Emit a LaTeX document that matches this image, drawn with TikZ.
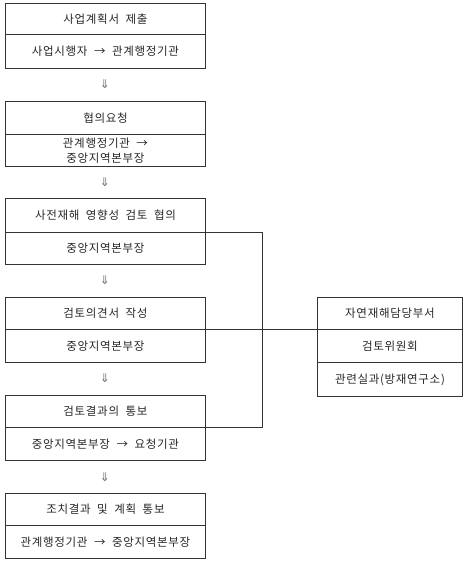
\documentclass[tikz,border=0pt]{standalone}
\usepackage{fontspec}
\setmainfont{Noto Sans CJK KR}[LetterSpace=6, WordSpace=2]
\newfontfamily\symfont{DejaVu Sans}
\begin{document}
\begin{tikzpicture}[x=1pt,y=-1pt,
  cell/.style={draw=black!80, line width=0.9pt, anchor=north west, inner sep=0pt,
    minimum width=200pt, font=\fontsize{11.5pt}{15pt}\selectfont, text=black!85, align=center},
  rcell/.style={cell, minimum width=145pt},
  dn/.style={font=\symfont\fontsize{12pt}{12pt}\selectfont, text=black!55, inner sep=0pt},
  link/.style={draw=black!80, line width=0.9pt}]
\useasboundingbox (0,0) rectangle (472,566);
% box 1
\node[cell, minimum height=31pt] (b1t) at (5,3) {사업계획서 제출};
\node[cell, minimum height=34pt] (b1b) at (5,34) {사업시행자 → 관계행정기관};
\node[dn] (a1) at (105,84) {⇓};
% box 2
\node[cell, minimum height=33pt] (b2t) at (5,101) {협의요청};
\node[cell, minimum height=32pt] (b2b) at (5,134) {관계행정기관 →\\중앙지역본부장};
\node[dn] (a2) at (105,182) {⇓};
% box 3
\node[cell, minimum height=34pt] (b3t) at (5,198) {사전재해 영향성 검토 협의};
\node[cell, minimum height=32pt] (b3b) at (5,232) {중앙지역본부장};
\node[dn] (a3) at (105,280) {⇓};
% box 4
\node[cell, minimum height=32pt] (b4t) at (5,297) {검토의견서 작성};
\node[cell, minimum height=33pt] (b4b) at (5,329) {중앙지역본부장};
\node[dn] (a4) at (105,378) {⇓};
% box 5
\node[cell, minimum height=32pt] (b5t) at (5,395) {검토결과의 통보};
\node[cell, minimum height=33pt] (b5b) at (5,427) {중앙지역본부장 → 요청기관};
\node[dn] (a5) at (105,477) {⇓};
% box 6
\node[cell, minimum height=32pt] (b6t) at (5,493) {조치결과 및 계획 통보};
\node[cell, minimum height=33pt] (b6b) at (5,525) {관계행정기관 → 중앙지역본부장};
% right box
\node[rcell, minimum height=32pt] (r1) at (317,297) {자연재해담당부서};
\node[rcell, minimum height=33pt] (r2) at (317,329) {검토위원회};
\node[rcell, minimum height=34pt] (r3) at (317,362) {관련실과(방재연구소)};
% connectors
\coordinate (c1) at (262,232);
\draw[link] (b3b.north east) -- (c1) |- (b5b.north east);
\draw[link] (b4b.north east) -- (r2.north west);
\end{tikzpicture}
\end{document}
